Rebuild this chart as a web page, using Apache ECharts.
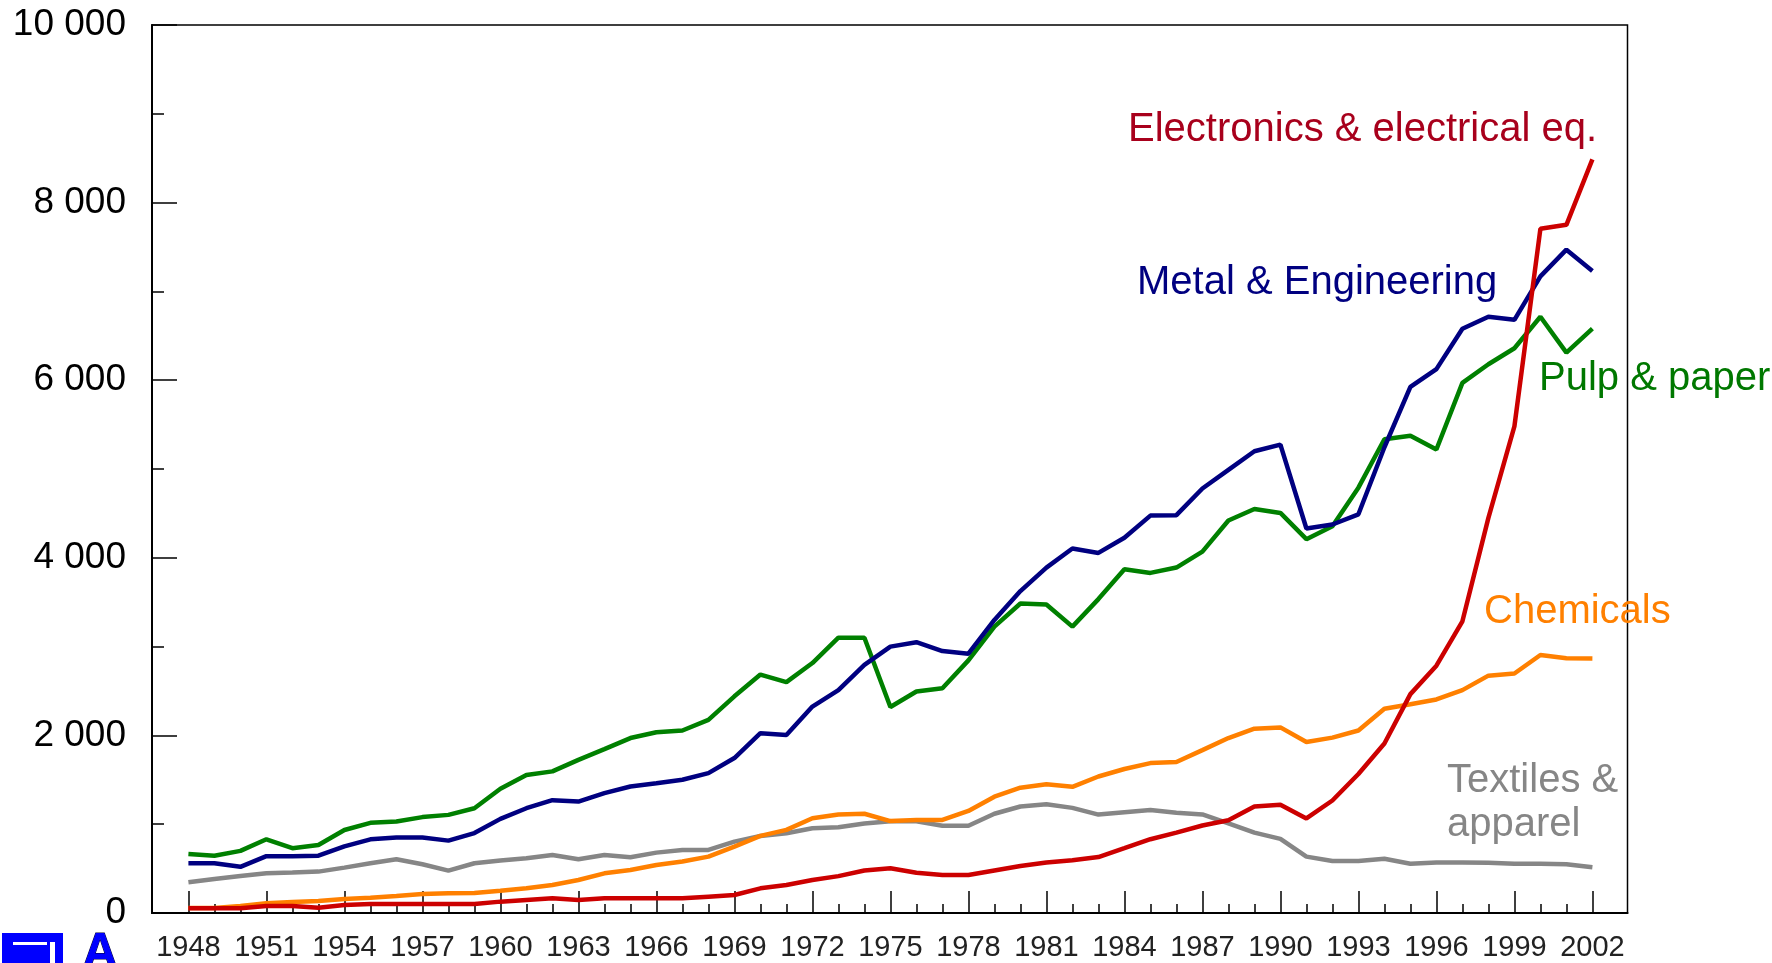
<!DOCTYPE html>
<html>
<head>
<meta charset="utf-8">
<script src="https://cdn.jsdelivr.net/npm/echarts@6/dist/echarts.min.js"></script>
<style>
  html, body { margin: 0; padding: 0; background: #fff; }
  #chart { width: 1772px; height: 963px; }
</style>
</head>
<body>
<div id="chart"></div>
<script>
const years = [1948,1949,1950,1951,1952,1953,1954,1955,1956,1957,1958,1959,1960,1961,1962,1963,1964,1965,1966,1967,1968,1969,1970,1971,1972,1973,1974,1975,1976,1977,1978,1979,1980,1981,1982,1983,1984,1985,1986,1987,1988,1989,1990,1991,1992,1993,1994,1995,1996,1997,1998,1999,2000,2001,2002];

const xTickLabels = [1948,1951,1954,1957,1960,1963,1966,1969,1972,1975,1978,1981,1984,1987,1990,1993,1996,1999,2002];

const pulpPaper = [665,645,700,830,730,765,935,1015,1030,1080,1105,1180,1400,1555,1595,1725,1845,1970,2035,2055,2175,2440,2685,2600,2815,3100,3100,2320,2495,2530,2845,3225,3485,3475,3225,3535,3870,3830,3890,4070,4420,4550,4505,4210,4355,4790,5335,5375,5220,5970,6180,6360,6715,6310,6580];

const metalEng = [560,560,520,640,640,645,750,830,850,850,815,900,1060,1180,1270,1255,1350,1425,1460,1500,1575,1745,2025,2005,2325,2510,2795,3000,3050,2950,2920,3300,3625,3890,4105,4055,4225,4475,4480,4780,4990,5200,5275,4330,4375,4490,5245,5925,6125,6580,6715,6680,7170,7470,7230];

const chemicals = [55,55,80,110,125,135,158,173,192,214,222,225,250,278,316,372,447,485,541,579,635,748,868,936,1067,1110,1118,1035,1048,1048,1149,1310,1411,1451,1421,1537,1622,1688,1700,1834,1970,2075,2090,1925,1975,2055,2300,2350,2405,2510,2673,2697,2905,2870,2865];

const textiles = [346,383,417,447,455,466,511,560,605,549,477,560,590,616,654,605,654,628,680,710,710,804,868,898,955,965,1008,1033,1033,982,982,1118,1199,1224,1184,1108,1134,1159,1130,1110,1010,905,835,635,585,585,610,555,570,570,565,555,555,550,515];

const electronics = [53,53,53,79,79,60,90,101,101,101,101,101,128,147,165,147,165,165,165,165,184,203,278,316,372,415,479,504,453,428,428,479,529,569,594,630,730,831,905,985,1045,1200,1220,1065,1267,1565,1908,2465,2785,3285,4450,5480,7705,7750,8486];

const seriesNames = ['Textiles & apparel', 'Chemicals', 'Pulp & paper', 'Metal & Engineering', 'Electronics & electrical eq.'];
const seriesValues = [textiles, chemicals, pulpPaper, metalEng, electronics];
const seriesColors = ['#868686', '#FF8000', '#008000', '#000080', '#CC0000'];

const FONT = '"Liberation Sans", Arial, "DejaVu Sans", sans-serif';

function spaced(v) {
  return String(v).replace(/\B(?=(\d{3})+(?!\d))/g, ' ');
}

const chart = echarts.init(document.getElementById('chart'), null, { renderer: 'canvas' });

const series = seriesNames.map((name, k) => ({
  name: name,
  type: 'line',
  xAxisIndex: 0,
  yAxisIndex: 0,
  showSymbol: false,
  symbol: 'none',
  smooth: false,
  z: 3 + k,
  lineStyle: { width: 4.5, color: seriesColors[k] },
  itemStyle: { color: seriesColors[k] },
  data: years.map((y, i) => [y, seriesValues[k][i]])
}));

const annFont = '40px ' + FONT;

const option = {
  animation: false,
  backgroundColor: '#ffffff',
  grid: {
    show: true,
    left: 152,
    right: 144.5,
    top: 25,
    bottom: 50,
    borderColor: '#000',
    borderWidth: 1.5,
    backgroundColor: 'transparent'
  },
  xAxis: [
    {
      type: 'value',
      min: 1946.6,
      max: 2003.35,
      position: 'bottom',
      axisLine: { show: true, onZero: false, lineStyle: { color: '#000', width: 2 } },
      axisTick: { show: true, inside: true, length: 22, customValues: xTickLabels, lineStyle: { color: '#000', width: 1.5 } },
      axisLabel: {
        show: true,
        customValues: xTickLabels,
        fontFamily: FONT,
        fontSize: 29,
        color: '#222',
        margin: 20,
        formatter: v => String(Math.round(v))
      },
      splitLine: { show: false }
    },
    {
      type: 'value',
      min: 1946.6,
      max: 2003.35,
      position: 'bottom',
      axisLine: { show: false },
      axisTick: { show: true, inside: true, length: 9, customValues: years, lineStyle: { color: '#000', width: 1.5 } },
      axisLabel: { show: false },
      splitLine: { show: false }
    }
  ],
  yAxis: {
    type: 'value',
    min: 0,
    max: 10000,
    interval: 2000,
    axisLine: { show: true, lineStyle: { color: '#000', width: 2 } },
    axisTick: { show: true, inside: true, length: 25, lineStyle: { color: '#000', width: 1.5 } },
    minorTick: { show: true, splitNumber: 2, length: 12, lineStyle: { color: '#000', width: 1.5 } },
    axisLabel: {
      fontFamily: FONT,
      fontSize: 37,
      color: '#000',
      margin: 26,
      formatter: v => spaced(v)
    },
    splitLine: { show: false },
    minorSplitLine: { show: false }
  },
  series: series,
  graphic: [
    { type: 'text', x: 1128, y: 130, z: 100, style: { text: 'Electronics & electrical eq.', font: annFont, fill: '#A8001C', textAlign: 'left', textVerticalAlign: 'middle' } },
    { type: 'text', x: 1137, y: 283, z: 100, style: { text: 'Metal & Engineering', font: annFont, fill: '#000080', textAlign: 'left', textVerticalAlign: 'middle' } },
    { type: 'text', x: 1539, y: 379, z: 100, style: { text: 'Pulp & paper', font: annFont, fill: '#007800', textAlign: 'left', textVerticalAlign: 'middle' } },
    { type: 'text', x: 1484, y: 612, z: 100, style: { text: 'Chemicals', font: annFont, fill: '#FF8000', textAlign: 'left', textVerticalAlign: 'middle' } },
    { type: 'text', x: 1447, y: 781, z: 100, style: { text: 'Textiles &', font: annFont, fill: '#868686', textAlign: 'left', textVerticalAlign: 'middle' } },
    { type: 'text', x: 1447, y: 825, z: 100, style: { text: 'apparel', font: annFont, fill: '#868686', textAlign: 'left', textVerticalAlign: 'middle' } },
    { type: 'rect', z: 100, shape: { x: 2, y: 933, width: 61, height: 30 }, style: { fill: '#0000FF' } },
    { type: 'rect', z: 101, shape: { x: 13, y: 942, width: 34, height: 3 }, style: { fill: '#ffffff' } },
    { type: 'rect', z: 101, shape: { x: 50, y: 942, width: 5, height: 21 }, style: { fill: '#ffffff' } },
    { type: 'text', x: 82, y: 929, z: 100, style: { text: 'A', font: 'bold 50px ' + FONT, fill: '#0000FF', stroke: '#000033', lineWidth: 1, textAlign: 'left', textVerticalAlign: 'top' } }
  ]
};

chart.setOption(option);
</script>
</body>
</html>
